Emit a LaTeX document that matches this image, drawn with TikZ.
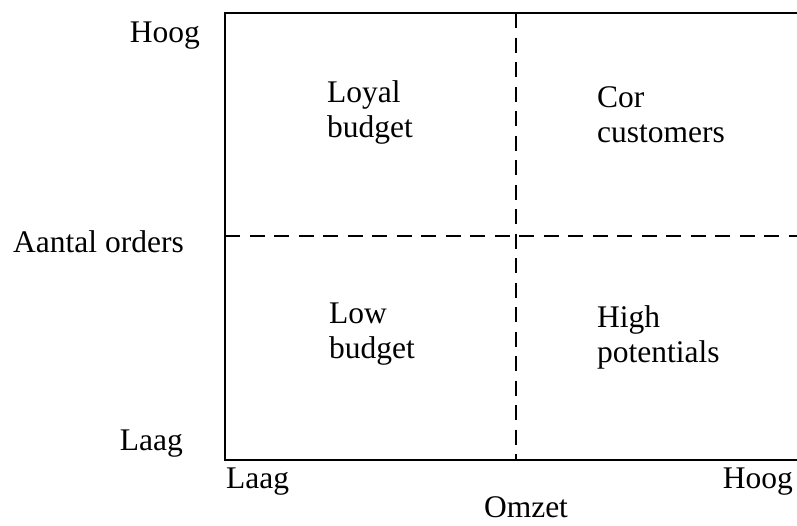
\documentclass[tikz,border=0pt]{standalone}
\usepackage{fontspec}
\setmainfont{Liberation Serif}
\begin{document}
\begin{tikzpicture}[x=1pt,y=-1pt,
  axisline/.style={line width=2pt},
  divider/.style={line width=2pt, dash pattern=on 15pt off 9.5pt},
  lbl/.style={inner sep=0pt, font=\fontsize{31.5}{35}\selectfont},
  quad/.style={lbl, align=left, anchor=base west}]
  \useasboundingbox (0,0) rectangle (797,525);
  % frame corners
  \coordinate (tl) at (225,13);
  \coordinate (tr) at (800,13);
  \coordinate (bl) at (225,460);
  \coordinate (br) at (800,460);
  \coordinate (mt) at (516,13);
  \coordinate (mb) at (516,460);
  \coordinate (ml) at (225,236);
  \coordinate (mr) at (800,236);
  % dividing lines
  \draw[divider] (ml) -- (mr);
  \draw[divider] (mt) -- (mb);
  % axes and top edge
  \draw[axisline] (tr) -- (tl) -- (bl) -- (br);
  % axis labels
  \node[lbl, anchor=base east] (yhigh) at (200,42) {Hoog};
  \node[lbl, anchor=base east] (ytitle) at (184,252) {Aantal orders};
  \node[lbl, anchor=base east] (ylow) at (183,450) {Laag};
  \node[lbl, anchor=base west] (xlow) at (226,488) {Laag};
  \node[lbl, anchor=base east] (xhigh) at (793,488) {Hoog};
  \node[lbl, anchor=base] (xtitle) at (526,517) {Omzet};
  % quadrant labels (anchored at the baseline of the last line)
  \node[quad] (q1) at (327,137) {Loyal\\budget};
  \node[quad] (q2) at (597,142) {Cor\\customers};
  \node[quad] (q3) at (329,358) {Low\\budget};
  \node[quad] (q4) at (597,362) {High\\potentials};
\end{tikzpicture}
\end{document}
